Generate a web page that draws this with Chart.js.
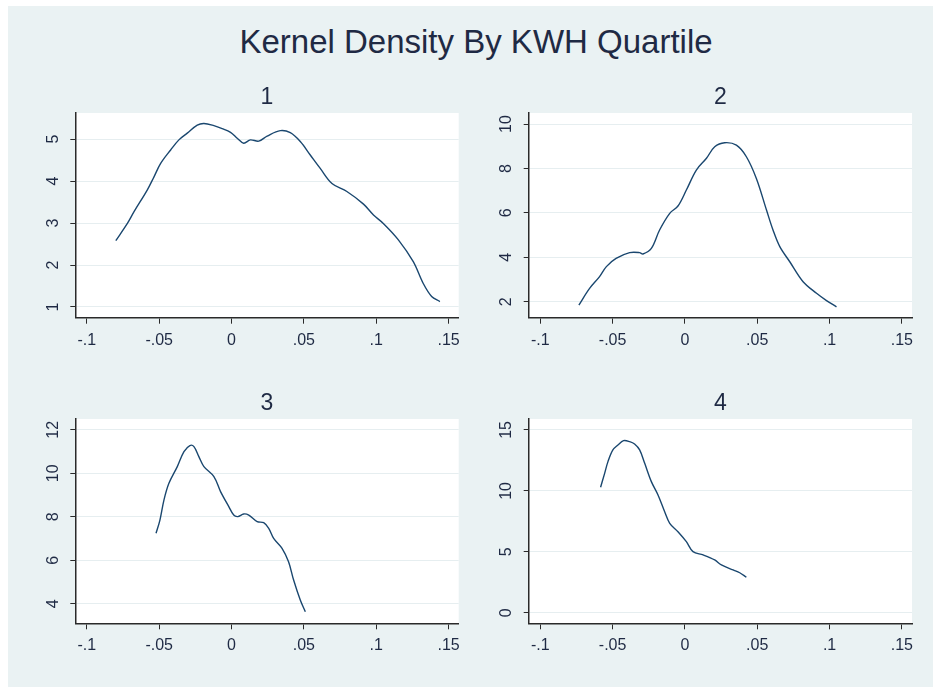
<!DOCTYPE html>
<html>
<head>
<meta charset="utf-8">
<script src="https://cdn.jsdelivr.net/npm/chart.js@4.4.1/dist/chart.umd.min.js"></script>
<style>
  html, body { margin:0; padding:0; background:#fff; }
  #bg { position:absolute; left:8px; top:6px; width:925px; height:681px; background:#eaf2f3; }
  #mainTitle { position:absolute; left:0; top:25px; width:952px; text-align:center;
               font:33px 'Liberation Sans', Arial, sans-serif; line-height:33px; color:#1f2a44; }
  canvas { position:absolute; }
</style>
</head>
<body>
<div id="bg"></div>
<div id="mainTitle">Kernel Density By KWH Quartile</div>
<canvas id="c1" width="450" height="300" style="left:20px;top:78px"></canvas>
<canvas id="c2" width="463" height="300" style="left:470px;top:78px"></canvas>
<canvas id="c3" width="450" height="300" style="left:20px;top:384px"></canvas>
<canvas id="c4" width="463" height="300" style="left:470px;top:384px"></canvas>
<script>
// quartile titles
const panelTitles = ['1', '2', '3', '4'];

// kernel density curves
const q1X = [-0.080,-0.072,-0.0674,-0.0582,-0.0536,-0.049,-0.0421,-0.0364,-0.0306,-0.0237,-0.0191,-0.0122,-0.0065,-0.0007,0.0039,0.0084,0.0130,0.0188,0.0246,0.0337,0.0406,0.0475,0.0544,0.0613,0.0694,0.0797,0.0912,0.0981,0.1049,0.1153,0.1256,0.1325,0.1383,0.1440];
const q1Y = [2.58,2.99,3.27,3.79,4.10,4.42,4.74,4.98,5.14,5.33,5.37,5.32,5.25,5.16,5.02,4.90,4.98,4.95,5.07,5.20,5.15,4.94,4.62,4.30,3.94,3.75,3.45,3.19,2.99,2.60,2.08,1.56,1.25,1.13];

const q2X = [-0.0733,-0.0659,-0.059,-0.0543,-0.0476,-0.0382,-0.0313,-0.029,-0.0232,-0.0175,-0.0105,-0.0048,0.0010,0.0079,0.0149,0.0206,0.0275,0.0356,0.0425,0.0494,0.0564,0.0609,0.0656,0.0725,0.0817,0.0910,0.0979,0.1048];
const q2Y = [1.85,2.60,3.13,3.58,3.95,4.21,4.21,4.15,4.40,5.23,5.98,6.31,7.03,7.93,8.46,8.98,9.16,9.05,8.53,7.55,6.13,5.23,4.48,3.80,2.90,2.38,2.05,1.77];

const q3X = [-0.0522,-0.0495,-0.0467,-0.0433,-0.0375,-0.0329,-0.0288,-0.026,-0.0226,-0.0191,-0.0122,-0.0076,-0.0019,0.0015,0.0043,0.0084,0.0119,0.0177,0.0222,0.0257,0.0291,0.0349,0.0394,0.0429,0.0475,0.0510];
const q3Y = [7.24,7.85,8.78,9.54,10.31,11.00,11.28,11.23,10.77,10.31,9.85,9.16,8.47,8.08,8.01,8.13,8.08,7.78,7.73,7.47,7.01,6.55,5.93,5.09,4.17,3.63];

const q4X = [-0.0583,-0.0555,-0.0532,-0.0498,-0.0463,-0.0424,-0.0382,-0.0348,-0.0313,-0.0278,-0.0232,-0.0186,-0.014,-0.0105,-0.0048,0.0010,0.0056,0.0126,0.0206,0.0252,0.0333,0.0379,0.0425];
const q4Y = [10.30,11.44,12.40,13.36,13.77,14.12,14.04,13.85,13.36,12.26,10.76,9.66,8.29,7.34,6.65,5.83,5.01,4.74,4.33,3.92,3.51,3.28,2.91];

// axes
const xTicks = [-0.1, -0.05, 0, 0.05, 0.1, 0.15];
const xTickLabels = ['-.1', '-.05', '0', '.05', '.1', '.15'];
const xRange = [-0.108, 0.157];
const yTicks1 = [1, 2, 3, 4, 5];
const yTicks2 = [2, 4, 6, 8, 10];
const yTicks3 = [4, 6, 8, 10, 12];
const yTicks4 = [0, 5, 10, 15];
const yMin = [0.745, 1.28, 3.1, -0.87];
const yMax = [5.62, 10.5, 12.5, 15.9];

const FONT = "'Liberation Sans', Arial, sans-serif";
const TXT = '#1f2a44';
const AXIS = '#2a2a2a';
const LINE = '#1a476f';

// white plot region
const plotBg = {
    id: 'plotBg',
    beforeDraw(chart) {
        const a = chart.chartArea;
        const ctx = chart.ctx;
        ctx.save();
        ctx.fillStyle = '#fff';
        ctx.fillRect(a.left, a.top, a.right - a.left, a.bottom - a.top);
        ctx.restore();
    }
};

function labelWidth(labels) {
    const c = document.createElement('canvas').getContext('2d');
    c.font = '16px ' + FONT;
    return Math.max(...labels.map(l => c.measureText(String(l)).width));
}

// box: y axis width, right padding, x axis height
function drawPanel(id, title, xs, ys, yTicks, lo, hi, box) {
    const pts = xs.map((x, i) => ({x: x, y: ys[i]}));
    const yPad = 17 - labelWidth(yTicks) / 2;

    new Chart(document.getElementById(id), {
        type: 'line',
        data: {
            datasets: [{
                data: pts,
                borderColor: LINE,
                borderWidth: 1.4,
                pointRadius: 0,
                tension: 0.35,
                fill: false
            }]
        },
        options: {
            responsive: false,
            animation: false,
            events: [],
            layout: { padding: { left: 0, right: box.right, top: 0, bottom: 0 } },
            plugins: {
                legend: { display: false },
                tooltip: { enabled: false },
                title: {
                    display: true,
                    text: title,
                    fullSize: false,
                    color: TXT,
                    font: { family: FONT, size: 23, weight: 'normal' },
                    padding: { top: 5.5, bottom: 1.9 }
                }
            },
            scales: {
                x: {
                    type: 'linear',
                    min: xRange[0],
                    max: xRange[1],
                    afterBuildTicks: s => { s.ticks = xTicks.map(v => ({value: v})); },
                    afterFit: s => { s.height = box.xh; },
                    ticks: {
                        callback: (v, i) => xTickLabels[i],
                        color: TXT,
                        font: { family: FONT, size: 16 },
                        padding: 7,
                        maxRotation: 0
                    },
                    grid: { drawOnChartArea: false, tickLength: 6, tickColor: AXIS, tickWidth: 1 },
                    border: { display: true, color: AXIS, width: 1.5 }
                },
                y: {
                    type: 'linear',
                    min: lo,
                    max: hi,
                    afterBuildTicks: s => { s.ticks = yTicks.map(v => ({value: v})); },
                    afterFit: s => { s.width = box.yw; },
                    ticks: {
                        callback: v => String(v),
                        color: TXT,
                        font: { family: FONT, size: 16 },
                        minRotation: 90,
                        maxRotation: 90,
                        crossAlign: 'center',
                        padding: yPad
                    },
                    grid: { color: '#e6eef0', lineWidth: 1, tickLength: 5, tickColor: AXIS, tickWidth: 1 },
                    border: { display: true, color: AXIS, width: 1.5 }
                }
            }
        },
        plugins: [plotBg]
    });
}

drawPanel('c1', panelTitles[0], q1X, q1Y, yTicks1, yMin[0], yMax[0], {yw: 55.3, right: 11.3, xh: 60.3});
drawPanel('c2', panelTitles[1], q2X, q2Y, yTicks2, yMin[1], yMax[1], {yw: 58.7, right: 21, xh: 60.3});
drawPanel('c3', panelTitles[2], q3X, q3Y, yTicks3, yMin[2], yMax[2], {yw: 55.3, right: 11.3, xh: 60.7});
drawPanel('c4', panelTitles[3], q4X, q4Y, yTicks4, yMin[3], yMax[3], {yw: 58.7, right: 21, xh: 60.7});
</script>
</body>
</html>
